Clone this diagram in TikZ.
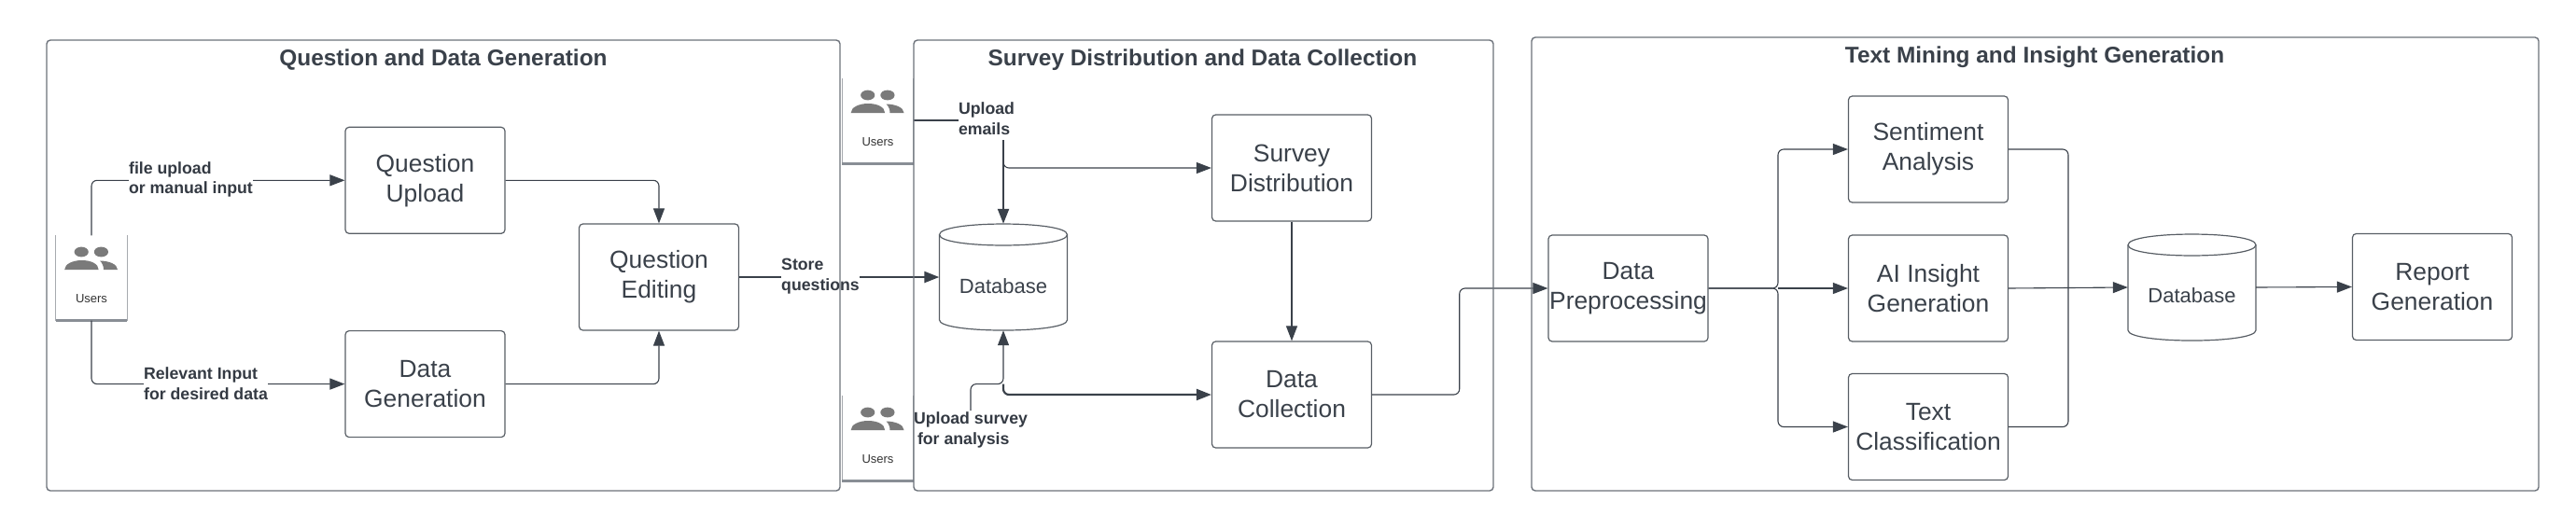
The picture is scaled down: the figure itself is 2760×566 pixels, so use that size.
\documentclass[tikz,border=0pt]{standalone}
\usepackage{fontspec}
\setmainfont{Liberation Sans}
\usetikzlibrary{arrows.meta}
\definecolor{inkdark}{HTML}{3A414A}
\definecolor{framegray}{HTML}{6C727A}
\definecolor{icongray}{HTML}{7A7A7A}
\tikzset{
	framebox/.style={draw=framegray, line width=1.4pt, rounded corners=4pt},
	procbox/.style={draw=inkdark!85, line width=1.2pt, rounded corners=4pt, fill=white, minimum width=171pt, minimum height=114pt, inner sep=0pt, align=center, text=inkdark, font=\fontsize{26.4}{32}\selectfont},
	dbshape/.style={minimum width=137pt, minimum height=114pt, inner sep=0pt},
	dbline/.style={draw=inkdark!85, line width=1.2pt, fill=white},
	dbtext/.style={text=inkdark, inner sep=0pt, font=\fontsize{22}{26}\selectfont},
	grouptitle/.style={text=inkdark, inner sep=0pt, font=\fontsize{24.4}{28}\selectfont\bfseries},
	edgelabel/.style={fill=white, text=inkdark!90!black, inner sep=0pt, align=left, font=\fontsize{17.7}{21.5}\selectfont\bfseries},
	usersbox/.style={fill=white, minimum width=76pt, minimum height=91pt, inner sep=0pt},
	flow/.style={draw=inkdark, line width=1.1pt, rounded corners=6pt, -{Triangle[length=16pt,width=12pt]}},
	plainflow/.style={draw=inkdark, line width=1.1pt, rounded corners=6pt},
	heavyflow/.style={draw=inkdark, line width=2.2pt, rounded corners=6pt}
}
\begin{document}
\begin{tikzpicture}[x=1pt,y=-1pt]
	\useasboundingbox (0,0) rectangle (2760,566);
	\node (qupload) at (455.5,193.3) [procbox] {Question\\Upload};
	\node (qedit) at (706,297) [procbox] {Question\\Editing};
	\node (dgen) at (455.5,411.6) [procbox] {Data\\Generation};
	\node (survey) at (1384,180) [procbox] {Survey\\Distribution};
	\node (dcoll) at (1384,423) [procbox] {Data\\Collection};
	\node (dprep) at (1744.5,309) [procbox] {Data\\Preprocessing};
	\node (sentim) at (2066,160) [procbox] {Sentiment\\Analysis};
	\node (aiins) at (2066,309) [procbox] {AI Insight\\Generation};
	\node (textcl) at (2066,457.5) [procbox] {Text\\Classification};
	\node (report) at (2606,307.5) [procbox] {Report\\Generation};
	\foreach \nm/\cx/\cy in {dbasea/1075/297, dbaseb/2348.5/308} {
		\node (\nm) at (\cx,\cy) [dbshape] {};
		\begin{scope}[shift={(\nm.center)}]
			\draw [dbline] (-68.5,-45.5) .. controls (-68.5,-60.8) and (68.5,-60.8) .. (68.5,-45.5) -- (68.5,46) .. controls (68.5,60.7) and (-68.5,60.7) .. (-68.5,46) -- cycle;
			\draw [dbline, fill=none] (-68.5,-45.5) .. controls (-68.5,-30.2) and (68.5,-30.2) .. (68.5,-45.5);
		\end{scope}
	}
	\node (dbatext) at (1075,307) [dbtext] {Database};
	\node (dbbtext) at (2348.5,317) [dbtext] {Database};
	\foreach \nm/\cx/\cy in {usersa/98/298, usersb/940.5/130, usersc/940.5/470} {
		\node (\nm) at (\cx,\cy) [usersbox] {};
		\draw [framegray!60, line width=1pt] (\nm.north west) -- (\nm.south west);
		\draw [framegray!60, line width=1pt] (\nm.north east) -- (\nm.south east);
		\draw [framegray!80, line width=2.6pt] (\nm.south west) -- (\nm.south east);
		\begin{scope}[shift={(\nm.center)}]
			\fill [icongray] (-10.8,-28) ellipse (7.6pt and 5.4pt);
			\fill [icongray] (10.4,-28) ellipse (7.6pt and 5.4pt);
			\fill [icongray] (-28.8,-9) .. controls (-28.8,-15) and (-20,-19) .. (-10.5,-19) .. controls (0,-19) and (7.6,-15) .. (7.6,-9) -- cycle;
			\fill [icongray] (9,-18.5) .. controls (18,-18.5) and (28,-15) .. (28,-9) -- (13,-9) .. controls (13,-12) and (12,-16) .. (9,-18.5) -- cycle;
		\end{scope}
		\node (\nm text) at (\cx,\cy+22) [text=black!80, inner sep=0pt, font=\fontsize{13}{15}\selectfont] {Users};
	}
	\coordinate (emailstop) at (1027,129);
	\coordinate (emaildrop) at (1075,150);
	\coordinate (surveytop) at (1040,440);
	\coordinate (surveyjoin) at (1075,411.6);
	\coordinate (splitjoin) at (1905,309);
	\coordinate (mergejoin) at (2216,308.5);
	\draw [flow] (usersa.north) |- (qupload.west);
	\draw [flow] (usersa.south) |- (dgen.west);
	\draw [flow] (qupload.east) -| (qedit.north);
	\draw [flow] (dgen.east) -| (qedit.south);
	\draw [heavyflow, -{Triangle[length=16pt,width=12pt]}] (qedit.east) -- (dbasea.west);
	\draw [heavyflow] (usersb.east |- emailstop) -- (emailstop);
	\draw [flow] (emaildrop) |- (survey.west);
	\draw [heavyflow, -{Triangle[length=16pt,width=12pt]}] (emaildrop) -- (dbasea.north);
	\draw [flow] (surveytop) |- (surveyjoin) -- (dbasea.south);
	\draw [heavyflow, -{Triangle[length=16pt,width=12pt]}] (surveyjoin) |- (dcoll.west);
	\draw [flow] (survey.south) -- (dcoll.north);
	\draw [flow] (dcoll.east) -| (1563.7,309) -- (dprep.west);
	\draw [flow] (dprep.east) -- (splitjoin) |- (sentim.west);
	\draw [flow] (splitjoin) -- (aiins.west);
	\draw [flow] (dprep.east) -- (splitjoin) |- (textcl.west);
	\draw [plainflow] (sentim.east) -| (mergejoin);
	\draw [plainflow] (textcl.east) -| (mergejoin);
	\draw [plainflow] (aiins.east) -- (mergejoin);
	\draw [flow] (mergejoin) -- (dbaseb.west);
	\draw [flow] (dbaseb.east) -- (report.west);
	\node (uplabel) at (204.5,192.5) [edgelabel] {file upload\\or manual input};
	\node (dglabel) at (220.5,411) [edgelabel] {Relevant Input\\for desired data};
	\node (storelabel) at (879,296) [edgelabel] {Store\\questions};
	\node (emaillabel) at (1057,127) [edgelabel] {Upload\\emails};
	\node (surveylabel) at (1040,461) [edgelabel] {Upload survey\\\hspace{4pt}for analysis};
	\node (framea) at (475,284.5) [framebox, minimum width=850pt, minimum height=483pt] {};
	\node (frameb) at (1289.5,284.5) [framebox, minimum width=621pt, minimum height=483pt] {};
	\node (framec) at (2180.5,283) [framebox, minimum width=1079pt, minimum height=486pt] {};
	\node (titlea) at (475,64) [grouptitle] {Question and Data Generation};
	\node (titleb) at (1288.5,64) [grouptitle] {Survey Distribution and Data Collection};
	\node (titlec) at (2180,61.5) [grouptitle] {Text Mining and Insight Generation};
\end{tikzpicture}
\end{document}
